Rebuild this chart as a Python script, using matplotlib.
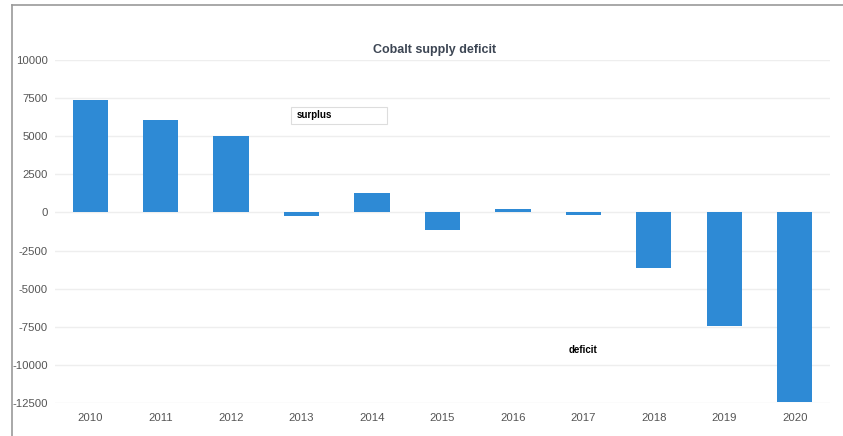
import matplotlib.pyplot as plt
from matplotlib.patches import Rectangle
from matplotlib.lines import Line2D
import numpy as np

plt.rcParams["font.family"] = ["Liberation Sans", "DejaVu Sans"]

# cobalt market balance by year (tonnes)
years = ["2010", "2011", "2012", "2013", "2014", "2015",
         "2016", "2017", "2018", "2019", "2020"]
balance = [7400, 6080, 5030, -200, 1300, -1180,
           200, -150, -3660, -7450, -12450]
yticks = [10000, 7500, 5000, 2500, 0, -2500, -5000, -7500, -10000, -12500]

fig = plt.figure(figsize=(8.43, 4.36), dpi=100)
ax = fig.add_axes([0.0652, 0.0757, 0.9194, 0.7866])

x = np.arange(len(years))
ax.bar(x, balance, width=0.5, color="#2e8ad5", zorder=2)

ax.set_xlim(-0.5, len(years) - 0.5)
ax.set_ylim(-12500, 10000)
ax.set_yticks(yticks)
ax.set_yticklabels([str(t) for t in yticks])
ax.set_xticks(x)
ax.set_xticklabels(years)
ax.tick_params(axis="both", length=0, labelsize=8.2, labelcolor="#555555")
ax.tick_params(axis="y", pad=5)
ax.tick_params(axis="x", pad=7)
for s in ax.spines.values():
    s.set_visible(False)
ax.grid(axis="y", color="#eeeeee", linewidth=1, zorder=0)

ax.set_title("Cobalt supply deficit", fontsize=9, fontweight="bold",
             color="#3d4654", pad=5, x=0.49)

# labels for the two regions
ax.add_patch(Rectangle((2.85, 5820), 1.36, 1110, facecolor="white",
                       edgecolor="#dddddd", linewidth=0.8, zorder=3))
ax.text(2.93, 6370, "surplus", fontsize=7, fontweight="bold",
        color="black", va="center", ha="left", zorder=4)
ax.text(7.0, -9050, "deficit", fontsize=7, fontweight="bold",
        color="black", va="center", ha="center", zorder=4)

# frame lines around the panel
fig.add_artist(Line2D([12 / 843, 12 / 843], [0, 1 - 5 / 436],
                      color="#999999", linewidth=1.2))
fig.add_artist(Line2D([12 / 843, 1], [1 - 5 / 436, 1 - 5 / 436],
                      color="#999999", linewidth=1.2))

fig.savefig("out.png", dpi=100)
